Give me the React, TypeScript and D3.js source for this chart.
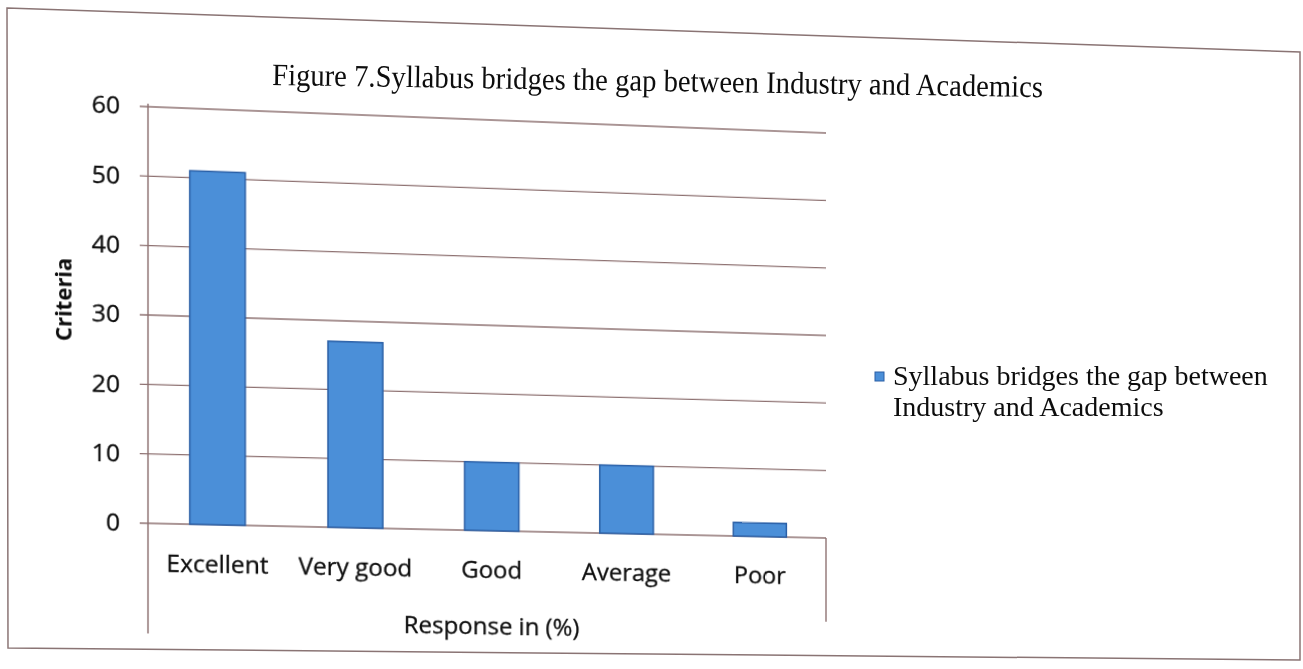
import { useMemo } from 'react';
import * as d3 from 'd3';

const categories = ['Excellent', 'Very good', 'Good', 'Average', 'Poor'];
const responses = [51, 27, 10, 10, 2];
const yTicks = [0, 10, 20, 30, 40, 50, 60];
const legendLines = ['Syllabus bridges the gap between', 'Industry and Academics'];
const chartTitle = 'Figure 7.Syllabus bridges the gap between Industry and Academics';

const W = 1303;
const H = 669;
const plot = { left: 148, right: 825, top: 107, bottom: 523 };

// the reference is a scanned page: plot corners land here after the scan warp
const warpTo = [
  [148, 106.7],
  [826, 133],
  [826, 538],
  [148, 523.3],
];

function homography(src: number[][], dst: number[][]) {
  const A: number[][] = [];
  const b: number[] = [];
  for (let i = 0; i < 4; i++) {
    const [x, y] = src[i];
    const [u, v] = dst[i];
    A.push([x, y, 1, 0, 0, 0, -x * u, -y * u]);
    b.push(u);
    A.push([0, 0, 0, x, y, 1, -x * v, -y * v]);
    b.push(v);
  }
  for (let c = 0; c < 8; c++) {
    let p = c;
    for (let r = c + 1; r < 8; r++) if (Math.abs(A[r][c]) > Math.abs(A[p][c])) p = r;
    [A[c], A[p]] = [A[p], A[c]];
    [b[c], b[p]] = [b[p], b[c]];
    for (let r = 0; r < 8; r++) {
      if (r === c) continue;
      const f = A[r][c] / A[c][c];
      for (let k = c; k < 8; k++) A[r][k] -= f * A[c][k];
      b[r] -= f * b[c];
    }
  }
  return b.map((v, i) => v / A[i][i]);
}

const gridColor = '#8e7272';
const barFill = '#4b8fd8';
const barStroke = '#2a5fa6';
const ink = '#0d0d0d';

export default function App() {
  const x = d3
    .scaleBand<string>()
    .domain(categories)
    .range([plot.left, plot.right])
    .paddingInner(0.6)
    .paddingOuter(0.3);
  const y = d3.scaleLinear().domain([0, 60]).range([plot.bottom, plot.top]);

  const warp = useMemo(() => {
    const src = [
      [plot.left, plot.top],
      [plot.right, plot.top],
      [plot.right, plot.bottom],
      [plot.left, plot.bottom],
    ];
    const h = homography(src, warpTo);
    return `matrix3d(${h[0]},${h[3]},0,${h[6]},${h[1]},${h[4]},0,${h[7]},0,0,1,0,${h[2]},${h[5]},0,1)`;
  }, []);

  const sans = "'Open Sans', sans-serif";
  const serif = "'Liberation Serif', 'Times New Roman', serif";

  return (
    <div style={{ position: 'absolute', left: 0, top: 0, width: W, height: H, overflow: 'hidden', background: '#fff' }}>
      <div style={{ position: 'absolute', left: 0, top: 0, width: W, height: H, transformOrigin: '0 0', transform: warp }}>
        <svg width={W} height={H} style={{ display: 'block' }}>
          {yTicks.map((t) => (
            <g key={t}>
              <line x1={plot.left - 8} x2={plot.right} y1={y(t)} y2={y(t)} stroke={gridColor} strokeWidth={1.4} />
              <text
                x={121}
                y={y(t)}
                dy="0.35em"
                textAnchor="end"
                fontFamily={sans}
                fontSize={24}
                fill={ink}
                stroke={ink}
                strokeWidth={0.3}
              >
                {t}
              </text>
            </g>
          ))}
          <line x1={plot.left} x2={plot.left} y1={plot.top - 3} y2={633} stroke={gridColor} strokeWidth={1.4} />
          <line x1={plot.right} x2={plot.right} y1={plot.bottom} y2={609} stroke={gridColor} strokeWidth={1.4} />
          {categories.map((c, i) => (
            <rect
              key={c}
              x={x(c)}
              y={y(responses[i])}
              width={x.bandwidth()}
              height={y(0) - y(responses[i])}
              fill={barFill}
              stroke={barStroke}
              strokeWidth={1.5}
            />
          ))}
          {categories.map((c) => (
            <text
              key={c}
              x={(x(c) ?? 0) + x.bandwidth() / 2}
              y={563}
              dy="0.35em"
              textAnchor="middle"
              fontFamily={sans}
              fontSize={24}
              fill={ink}
              stroke={ink}
              strokeWidth={0.3}
            >
              {c}
            </text>
          ))}
          <text
            x={(plot.left + plot.right) / 2}
            y={620}
            dy="0.35em"
            textAnchor="middle"
            fontFamily={sans}
            fontSize={24}
            fill={ink}
            stroke={ink}
            strokeWidth={0.3}
          >
            Response in (%)
          </text>
          <text
            transform="translate(66,302) rotate(-90)"
            dy="0.35em"
            textAnchor="middle"
            fontFamily={sans}
            fontSize={22}
            fontWeight="bold"
            fill={ink}
          >
            Criteria
          </text>
        </svg>
      </div>
      <svg width={W} height={H} style={{ position: 'absolute', left: 0, top: 0 }}>
        <path d="M7,8 L1300,52 L1300,660 L8,648 Z" fill="none" stroke="#8a7474" strokeWidth={1.5} />
        <text
          x={272}
          y={85}
          transform="rotate(0.9,272,85)"
          fontFamily={serif}
          fontSize={31}
          textLength={771}
          lengthAdjust="spacingAndGlyphs"
          fill={ink}
        >
          {chartTitle}
        </text>
        <rect x={875} y={372} width={9} height={9} fill={barFill} stroke={barStroke} strokeWidth={1} />
        {legendLines.map((l, i) => (
          <text key={l} x={893} y={385 + i * 31} fontFamily={serif} fontSize={28} fill={ink}>
            {l}
          </text>
        ))}
      </svg>
    </div>
  );
}
